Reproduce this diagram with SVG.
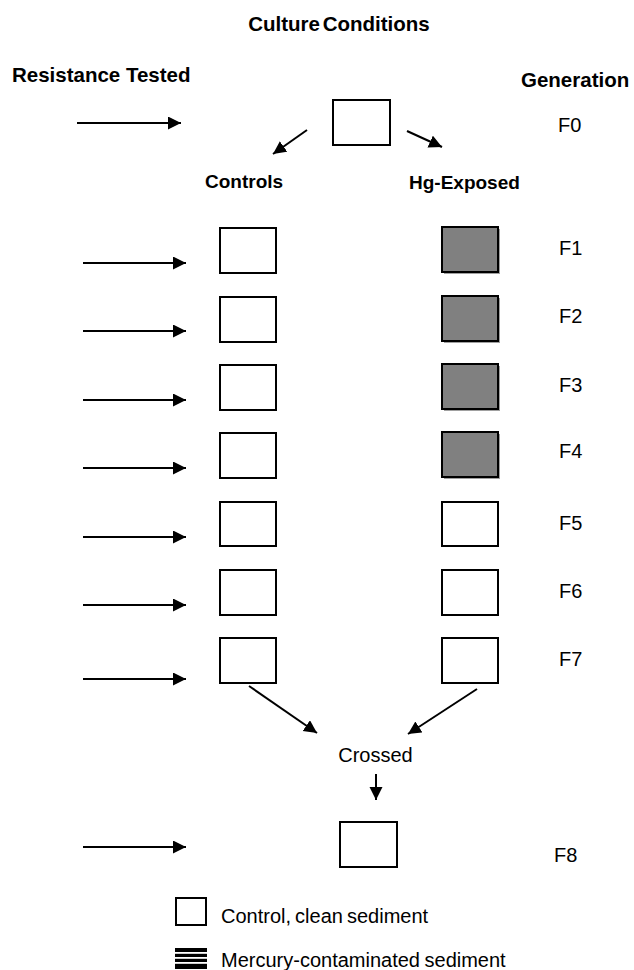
<svg xmlns="http://www.w3.org/2000/svg" width="634" height="970" viewBox="0 0 634 970">
  <style>
    text { font-family: "Liberation Sans", Arial, sans-serif; fill: #000; }
    .title { font-weight: bold; font-size: 20.5px; }
    .head { font-weight: bold; font-size: 19px; }
    .gen { font-size: 20px; }
    .lbl { font-size: 20px; }
    .box { fill: #fff; stroke: #000; stroke-width: 2; }
    .hg { fill: #808080; stroke: #000; stroke-width: 2; }
    .shadow { fill: #a0a0a0; }
    .conn line { stroke: #000; stroke-width: 2; marker-end: url(#head); }
  </style>
  <defs>
    <marker id="head" markerUnits="userSpaceOnUse" markerWidth="14" markerHeight="14" refX="13" refY="6.5" orient="auto">
      <path d="M0,0 L13,6.5 L0,13 z" fill="#000"/>
    </marker>
  </defs>

  <!-- headings -->
  <g id="headings">
    <text class="title" x="339" y="31" text-anchor="middle" word-spacing="-3">Culture Conditions</text>
    <text class="title" x="12" y="82" font-size="21.3">Resistance Tested</text>
    <text class="title" x="521" y="87">Generation</text>
    <text class="head" x="205" y="188">Controls</text>
    <text class="head" x="409" y="189" font-size="20.5">Hg-Exposed</text>
  </g>

  <!-- founding generation -->
  <g id="f0">
    <rect class="box" x="333" y="100" width="57" height="45"/>
    <text class="gen" x="558" y="132">F0</text>
  </g>

  <!-- control line -->
  <g id="control-f1"><rect class="box" x="220" y="228" width="56" height="45"/></g>
  <g id="control-f2"><rect class="box" x="220" y="297" width="56" height="45"/></g>
  <g id="control-f3"><rect class="box" x="220" y="365" width="56" height="45"/></g>
  <g id="control-f4"><rect class="box" x="220" y="433" width="56" height="45"/></g>
  <g id="control-f5"><rect class="box" x="220" y="502" width="56" height="44"/></g>
  <g id="control-f6"><rect class="box" x="220" y="570" width="56" height="45"/></g>
  <g id="control-f7"><rect class="box" x="220" y="638" width="56" height="45"/></g>

  <!-- mercury-exposed line -->
  <g id="hg-f1"><rect class="shadow" x="444" y="229" width="56" height="45"/><rect class="hg" x="442" y="227" width="56" height="45"/></g>
  <g id="hg-f2"><rect class="shadow" x="444" y="298" width="56" height="45"/><rect class="hg" x="442" y="296" width="56" height="45"/></g>
  <g id="hg-f3"><rect class="shadow" x="444" y="366" width="56" height="45"/><rect class="hg" x="442" y="364" width="56" height="45"/></g>
  <g id="hg-f4"><rect class="shadow" x="444" y="434" width="56" height="45"/><rect class="hg" x="442" y="432" width="56" height="45"/></g>
  <g id="hg-f5"><rect class="box" x="442" y="502" width="56" height="44"/></g>
  <g id="hg-f6"><rect class="box" x="442" y="570" width="56" height="45"/></g>
  <g id="hg-f7"><rect class="box" x="442" y="638" width="56" height="45"/></g>

  <!-- generation labels -->
  <g id="generations">
    <text class="gen" x="559" y="255">F1</text>
    <text class="gen" x="559" y="323">F2</text>
    <text class="gen" x="559" y="392">F3</text>
    <text class="gen" x="559" y="458">F4</text>
    <text class="gen" x="559" y="530">F5</text>
    <text class="gen" x="559" y="598">F6</text>
    <text class="gen" x="559" y="666">F7</text>
  </g>

  <!-- cross -->
  <g id="crossed">
    <text class="lbl" x="375.5" y="762" text-anchor="middle">Crossed</text>
  </g>

  <g id="f8">
    <rect class="box" x="340" y="822" width="57" height="45"/>
    <text class="gen" x="554" y="862">F8</text>
  </g>

  <!-- legend -->
  <g id="legend">
    <rect class="box" x="176" y="898" width="30" height="27"/>
    <text class="lbl" x="221" y="923" font-size="19" word-spacing="-1.5">Control, clean sediment</text>
    <rect x="175" y="948" width="32" height="21" fill="#000"/>
    <rect x="175" y="952" width="32" height="1.8" fill="#fff"/>
    <rect x="175" y="957" width="32" height="1.8" fill="#fff"/>
    <rect x="175" y="962" width="32" height="1.8" fill="#fff"/>
    <text class="lbl" x="221" y="967" font-size="19.2" word-spacing="-1">Mercury-contaminated sediment</text>
  </g>

  <!-- connectors -->
  <g id="connectors" class="conn">
    <line x1="77" y1="123" x2="181" y2="123"/>
    <line x1="307" y1="130" x2="273" y2="154"/>
    <line x1="407" y1="131" x2="442" y2="147"/>
    <line x1="83" y1="263" x2="186" y2="263"/>
    <line x1="83" y1="331" x2="186" y2="331"/>
    <line x1="83" y1="400" x2="186" y2="400"/>
    <line x1="83" y1="468" x2="186" y2="468"/>
    <line x1="83" y1="537" x2="186" y2="537"/>
    <line x1="83" y1="605" x2="186" y2="605"/>
    <line x1="83" y1="679" x2="186" y2="679"/>
    <line x1="249" y1="686" x2="317" y2="733"/>
    <line x1="477" y1="689" x2="408" y2="734"/>
    <line x1="376" y1="774" x2="376" y2="800"/>
    <line x1="83" y1="847" x2="186" y2="847"/>
  </g>
</svg>
